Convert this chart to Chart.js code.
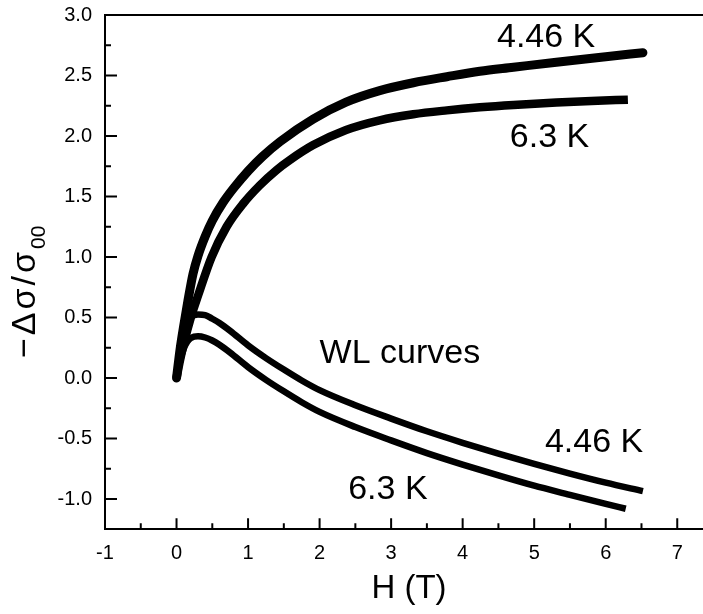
<!DOCTYPE html>
<html>
<head>
<meta charset="utf-8">
<script src="https://cdn.jsdelivr.net/npm/chart.js@4.4.1/dist/chart.umd.min.js"></script>
<style>
  html, body { margin: 0; padding: 0; background: #fff; overflow: hidden; }
  #wrap { width: 703px; height: 614px; }
</style>
</head>
<body>
<div id="wrap"><canvas id="chart" width="703" height="614"></canvas></div>
<script>
// magnetoconductance, -Δσ/σ00 vs H (T)
const h446 = [0, 0.05, 0.1, 0.16, 0.23, 0.3, 0.4, 0.5, 0.65, 0.8, 1.0, 1.2, 1.45, 1.91, 2.37, 2.84, 3.31, 3.78, 4.24, 4.71, 5.31, 6.0, 6.52];
const sig446 = [0, 0.24, 0.43, 0.64, 0.86, 1.01, 1.17, 1.30, 1.45, 1.57, 1.71, 1.83, 1.955, 2.14, 2.28, 2.375, 2.44, 2.49, 2.535, 2.568, 2.61, 2.655, 2.688];

const h63 = [0, 0.05, 0.1, 0.2, 0.3, 0.49, 0.7, 0.93, 1.16, 1.4, 1.58, 1.91, 2.37, 2.84, 3.31, 3.78, 4.24, 4.71, 5.31, 5.8, 6.31];
const sig63 = [0, 0.15, 0.28, 0.50, 0.68, 1.00, 1.25, 1.44, 1.59, 1.72, 1.80, 1.925, 2.05, 2.13, 2.18, 2.212, 2.237, 2.257, 2.277, 2.29, 2.30];

// weak localization curves
const hWl446 = [0, 0.05, 0.1, 0.15, 0.2, 0.3, 0.4, 0.5, 0.6, 0.75, 1.0, 1.25, 1.5, 1.75, 2.0, 2.5, 3.0, 3.5, 4.0, 4.5, 5.0, 5.5, 6.0, 6.52];
const wl446 = [0, 0.2, 0.36, 0.45, 0.5, 0.525, 0.52, 0.49, 0.455, 0.39, 0.27, 0.165, 0.07, -0.02, -0.10, -0.225, -0.335, -0.44, -0.535, -0.625, -0.71, -0.79, -0.865, -0.935];

const hWl63 = [0, 0.05, 0.1, 0.15, 0.2, 0.3, 0.4, 0.5, 0.6, 0.75, 1.0, 1.25, 1.5, 1.75, 2.0, 2.5, 3.0, 3.5, 4.0, 4.5, 5.0, 5.5, 6.0, 6.28];
const wl63 = [0, 0.14, 0.24, 0.30, 0.33, 0.345, 0.335, 0.31, 0.275, 0.21, 0.09, -0.015, -0.11, -0.20, -0.28, -0.405, -0.515, -0.62, -0.715, -0.805, -0.89, -0.965, -1.04, -1.08];

const xTicks = [-1, 0, 1, 2, 3, 4, 5, 6, 7];
const yTicks = [-1.0, -0.5, 0.0, 0.5, 1.0, 1.5, 2.0, 2.5, 3.0];

const notes = [
  { text: '4.46 K', x: 4.48, y: 2.734 },
  { text: '6.3 K', x: 4.66, y: 1.91 },
  { text: 'WL curves', x: 2.0, y: 0.126 },
  { text: '4.46 K', x: 5.15, y: -0.608 },
  { text: '6.3 K', x: 2.40, y: -0.996 }
];

const pts = (xs, ys) => xs.map((x, i) => ({ x, y: ys[i] }));

const FONT = '"Liberation Sans", Arial, sans-serif';

const decor = {
  id: 'decor',
  afterDraw(chart) {
    const ctx = chart.ctx;
    const xs = chart.scales.x, ys = chart.scales.y;
    const a = chart.chartArea;
    ctx.save();
    ctx.strokeStyle = '#000';
    ctx.lineWidth = 2;
    ctx.beginPath();
    // inward ticks, major + minor
    xTicks.forEach(v => {
      const px = xs.getPixelForValue(v);
      ctx.moveTo(px, a.bottom); ctx.lineTo(px, a.bottom - 11);
      const m = v + 0.5;
      if (m < xs.max) {
        const pm = xs.getPixelForValue(m);
        ctx.moveTo(pm, a.bottom); ctx.lineTo(pm, a.bottom - 6);
      }
    });
    yTicks.forEach(v => {
      const py = ys.getPixelForValue(v);
      ctx.moveTo(a.left, py); ctx.lineTo(a.left + 12, py);
      const m = v - 0.25;
      if (m > ys.min) {
        const pm = ys.getPixelForValue(m);
        ctx.moveTo(a.left, pm); ctx.lineTo(a.left + 6, pm);
      }
    });
    ctx.stroke();

    // annotations
    ctx.fillStyle = '#000';
    ctx.textAlign = 'left';
    ctx.textBaseline = 'alphabetic';
    ctx.font = '34px ' + FONT;
    notes.forEach(n => {
      ctx.fillText(n.text, xs.getPixelForValue(n.x), ys.getPixelForValue(n.y));
    });

    // x title
    ctx.textAlign = 'center';
    ctx.font = '33px ' + FONT;
    ctx.fillText('H (T)', 409, 598);

    // y title with subscript
    ctx.translate(35, 358);
    ctx.rotate(-Math.PI / 2);
    ctx.textAlign = 'left';
    ctx.font = '34px ' + FONT;
    ctx.letterSpacing = '3px';
    const main = '\u2212\u0394\u03c3/\u03c3';
    ctx.fillText(main, 0, 0);
    const w = ctx.measureText(main).width;
    ctx.font = '21px ' + FONT;
    ctx.letterSpacing = '0px';
    ctx.fillText('00', w, 10);
    ctx.restore();
  }
};

const lineSet = (data, width, cap) => ({
  data,
  showLine: true,
  borderColor: '#000',
  backgroundColor: '#000',
  borderWidth: width,
  borderCapStyle: cap,
  pointRadius: 0,
  cubicInterpolationMode: 'monotone',
  fill: false
});

new Chart(document.getElementById('chart'), {
  type: 'scatter',
  data: {
    datasets: [
      lineSet(pts(h446, sig446), 9, 'round'),
      lineSet(pts(h63, sig63), 8.5, 'butt'),
      lineSet(pts(hWl446, wl446), 6.5, 'butt'),
      lineSet(pts(hWl63, wl63), 6.5, 'butt')
    ]
  },
  options: {
    responsive: false,
    animation: false,
    layout: { padding: { top: 15, right: 0, left: 0, bottom: 0 } },
    plugins: { legend: { display: false }, tooltip: { enabled: false } },
    scales: {
      x: {
        type: 'linear', position: 'bottom', min: -1, max: 7.36,
        afterBuildTicks: s => { s.ticks = xTicks.map(v => ({ value: v })); },
        afterFit: s => { s.height = 84.7; s.paddingLeft = 0; s.paddingRight = 0; },
        grid: { display: false, drawTicks: false },
        border: { display: true, color: '#000', width: 2 },
        ticks: { color: '#000', padding: 12, font: { family: FONT, size: 20 }, callback: v => String(v) }
      },
      xTop: {
        type: 'linear', position: 'top', min: -1, max: 7.36,
        afterFit: s => { s.height = 0; s.paddingLeft = 0; s.paddingRight = 0; },
        grid: { display: false, drawTicks: false },
        border: { display: true, color: '#000', width: 2 },
        ticks: { display: false }
      },
      y: {
        type: 'linear', position: 'left', min: -1.25, max: 3.0,
        afterBuildTicks: s => { s.ticks = yTicks.map(v => ({ value: v })); },
        afterFit: s => { s.width = 105; s.paddingTop = 0; s.paddingBottom = 0; },
        grid: { display: false, drawTicks: false },
        border: { display: true, color: '#000', width: 2 },
        ticks: { color: '#000', padding: 13, font: { family: FONT, size: 20 }, callback: v => v.toFixed(1) }
      }
    }
  },
  plugins: [decor]
});
</script>
</body>
</html>
